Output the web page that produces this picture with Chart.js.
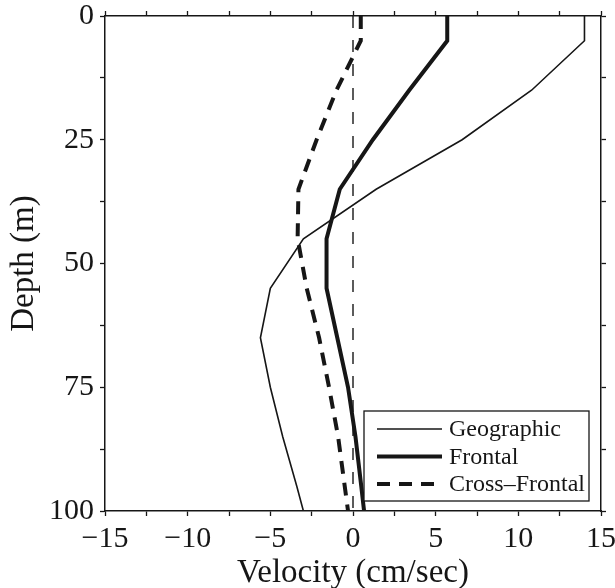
<!DOCTYPE html>
<html>
<head>
<meta charset="utf-8">
<script src="https://cdn.jsdelivr.net/npm/chart.js@4.4.0/dist/chart.umd.min.js"></script>
<style>
  body { margin: 0; background: #fff; }
  #box { width: 615px; height: 588px; }
</style>
</head>
<body>
<div id="box"><canvas id="myChart"></canvas></div>
<script>
// depth in m, velocity in cm/sec
const depths = [0, 5, 15, 25, 35, 45, 55, 65, 75, 85, 95, 100];
const geographic = [14, 14, 10.8, 6.6, 1.4, -3.0, -5.0, -5.6, -5.0, -4.25, -3.4, -3.0];
const frontal = [5.7, 5.7, 3.4, 1.2, -0.8, -1.6, -1.6, -0.95, -0.3, 0.15, 0.5, 0.67];
const crossFrontal = [0.47, 0.47, -1.0, -2.2, -3.3, -3.35, -2.8, -2.05, -1.45, -0.9, -0.5, -0.3];
const zeroLine = [0, 0];
const zeroDepths = [0, 100];

const labels = ['Geographic', 'Frontal', 'Cross\u2013Frontal'];
const xTicks = [-15, -10, -5, 0, 5, 10, 15];
const yTicks = [0, 25, 50, 75, 100];

const ink = '#161616';
const serif = "'Liberation Serif', 'DejaVu Serif', serif";

function pts(xs, ys) {
  return xs.map((v, i) => ({ x: v, y: ys[i] }));
}

// legend drawn inside the plot, bottom right
const boxLegend = {
  id: 'boxLegend',
  afterDraw(chart) {
    const ctx = chart.ctx;
    const a = chart.chartArea;
    const w = 225, h = 90;
    const x = a.right - 12 - w;
    const y = a.bottom - 10 - h;
    ctx.save();
    ctx.fillStyle = '#fff';
    ctx.fillRect(x, y, w, h);
    ctx.strokeStyle = ink;
    ctx.lineWidth = 1.3;
    ctx.strokeRect(x, y, w, h);
    ctx.font = '24px ' + serif;
    ctx.textBaseline = 'middle';
    ctx.fillStyle = ink;
    for (let i = 0; i < 3; i++) {
      const ds = chart.data.datasets[i];
      const ly = y + 18 + i * 27.5;
      ctx.beginPath();
      ctx.setLineDash(ds.borderDash || []);
      ctx.lineWidth = ds.borderWidth;
      ctx.moveTo(x + 13, ly);
      ctx.lineTo(x + 78, ly);
      ctx.stroke();
      ctx.setLineDash([]);
      ctx.fillText(ds.label, x + 85, ly + 1);
    }
    ctx.restore();
  }
};

// fixed box sizes so the plot area lands where it is in the figure
function fixSize(prop, size) {
  return function (scale) {
    scale[prop] = size;
    scale.paddingTop = 0;
    scale.paddingBottom = 0;
    scale.paddingLeft = 0;
    scale.paddingRight = 0;
  };
}

const gridOpts = {
  display: true,
  drawOnChartArea: false,
  drawTicks: true,
  tickLength: 5,
  tickWidth: 1.3,
  tickColor: ink
};
const borderOpts = { display: true, color: ink, width: 1.5 };

const ctx = document.getElementById('myChart');
new Chart(ctx, {
  type: 'scatter',
  data: {
    datasets: [
      {
        label: labels[0],
        data: pts(geographic, depths),
        showLine: true,
        borderColor: ink,
        borderWidth: 1.6,
        pointRadius: 0
      },
      {
        label: labels[1],
        data: pts(frontal, depths),
        showLine: true,
        borderColor: ink,
        borderWidth: 4,
        pointRadius: 0
      },
      {
        label: labels[2],
        data: pts(crossFrontal, depths),
        showLine: true,
        borderColor: ink,
        borderWidth: 4,
        borderDash: [13, 9],
        pointRadius: 0
      },
      {
        label: 'zero',
        data: pts(zeroLine, zeroDepths),
        showLine: true,
        borderColor: ink,
        borderWidth: 1.4,
        borderDash: [12, 12],
        pointRadius: 0
      }
    ]
  },
  options: {
    responsive: true,
    maintainAspectRatio: false,
    animation: false,
    layout: { padding: 0 },
    plugins: {
      legend: { display: false },
      tooltip: { enabled: false }
    },
    scales: {
      x: {
        type: 'linear',
        position: 'bottom',
        min: -15,
        max: 15,
        afterFit: fixSize('height', 77),
        grid: gridOpts,
        border: borderOpts,
        ticks: {
          stepSize: 2.5,
          autoSkip: false,
          maxRotation: 0,
          padding: 5,
          color: ink,
          font: { family: serif, size: 30 },
          callback: v => xTicks.includes(v) ? String(v).replace('-', '\u2212') : ''
        },
        title: {
          display: true,
          text: 'Velocity (cm/sec)',
          color: ink,
          font: { family: serif, size: 33, lineHeight: 1 },
          padding: { top: 0, bottom: -2 }
        }
      },
      x2: {
        type: 'linear',
        position: 'top',
        min: -15,
        max: 15,
        afterFit: fixSize('height', 16),
        grid: gridOpts,
        border: borderOpts,
        ticks: { stepSize: 2.5, autoSkip: false, padding: 0, font: { size: 1 }, callback: () => '' }
      },
      y: {
        type: 'linear',
        position: 'left',
        reverse: true,
        min: 0,
        max: 100,
        afterFit: fixSize('width', 105),
        grid: gridOpts,
        border: borderOpts,
        ticks: {
          stepSize: 12.5,
          autoSkip: false,
          padding: 6,
          color: ink,
          font: { family: serif, size: 30 },
          callback: v => yTicks.includes(v) ? String(v) : ''
        },
        title: {
          display: true,
          text: 'Depth (m)',
          color: ink,
          font: { family: serif, size: 33, lineHeight: 1.2 },
          padding: { top: 5, bottom: 0 }
        }
      },
      y2: {
        type: 'linear',
        position: 'right',
        reverse: true,
        min: 0,
        max: 100,
        afterFit: fixSize('width', 14),
        grid: gridOpts,
        border: borderOpts,
        ticks: { stepSize: 12.5, autoSkip: false, padding: 0, font: { size: 1 }, callback: () => '' }
      }
    }
  },
  plugins: [boxLegend]
});
</script>
</body>
</html>
